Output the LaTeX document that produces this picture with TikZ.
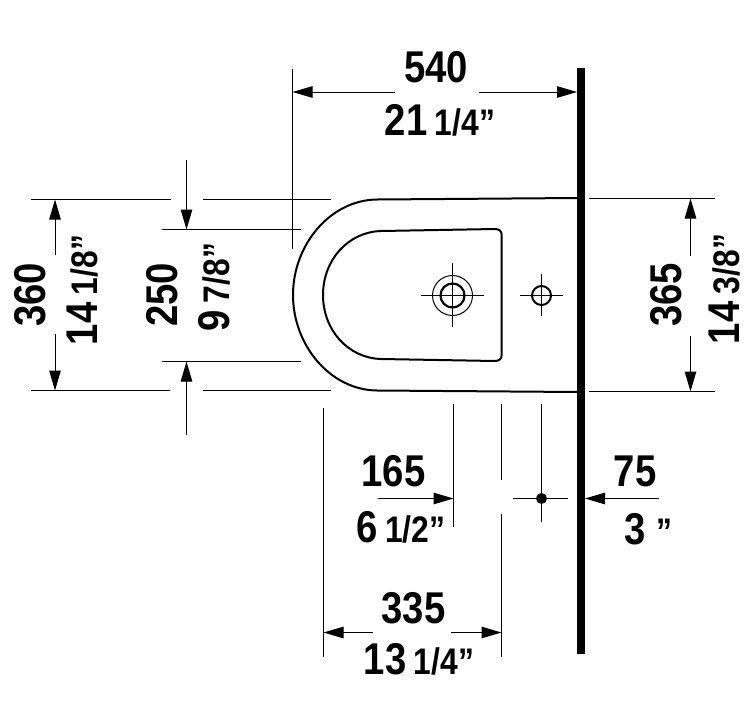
\documentclass[tikz,border=0pt]{standalone}
\usepackage{fontspec}
\newfontfamily\dimfont[FakeStretch=0.86]{Liberation Sans}
\newcommand{\fracsize}{\fontsize{37}{37}\selectfont}
\usetikzlibrary{arrows.meta}
\begin{document}
\begin{tikzpicture}[x=1pt,y=-1pt]
	\tikzstyle{edge} = [line width=1.1pt]
	\tikzstyle{dimarrow} = [line width=1pt,-{Triangle[length=20pt,width=11.5pt]}]
	\tikzstyle{body} = [line width=2pt]
	\tikzstyle{num} = [font=\dimfont\bfseries\fontsize{44.5}{44.5}\selectfont,inner sep=0pt]
	\useasboundingbox (0,0) rectangle (755,726);
	% wall
	\coordinate (walltop) at (581,68);
	\coordinate (wallbottom) at (581,654);
	\draw[line width=7.5pt] (walltop)--(wallbottom);
	% bowl
	\draw[body] (578,198)--(377,199.5) .. controls (330,200) and (293,245) .. (293,295) .. controls (293,345) and (330,390) .. (377,390.5)--(578,392);
	\draw[body] (495,229) .. controls (499,229) and (501.7,231) .. (501.7,235)--(501.7,355) .. controls (501.7,359) and (499,361) .. (495,361)--(381,359) .. controls (348,358) and (323,330) .. (323,295) .. controls (323,260) and (348,232) .. (381,231)--cycle;
	% holes
	\node[circle,draw,line width=1pt,minimum size=40pt,inner sep=0pt] (ring) at (452.5,295.5) {};
	\node[circle,draw,line width=2.2pt,minimum size=24pt,inner sep=0pt] (hole) at (452.5,295.5) {};
	\node[circle,draw,line width=2pt,minimum size=19pt,inner sep=0pt] (holesmall) at (541.5,295.5) {};
	\draw[edge] (421,295.5)--(484,295.5);
	\draw[edge] (452.5,263)--(452.5,327);
	\draw[edge] (520,295.5)--(563,295.5);
	\draw[edge] (541.5,274)--(541.5,316);
	% extension lines left
	\draw[edge] (31,199.5)--(171,199.5);
	\draw[edge] (203,199.5)--(331,199.5);
	\draw[edge] (162,229.5)--(301,229.5);
	\draw[edge] (162,361.5)--(301,361.5);
	\draw[edge] (31,390.5)--(170,390.5);
	\draw[edge] (203,390.5)--(331,390.5);
	\draw[edge] (292.5,69)--(292.5,249);
	% extension lines right
	\draw[edge] (589,198.5)--(715,198.5);
	\draw[edge] (589,391.5)--(715,391.5);
	% extension lines bottom
	\draw[edge] (323.5,408)--(323.5,657);
	\draw[edge] (453.5,404)--(453.5,527);
	\draw[edge] (501.5,404)--(501.5,480);
	\draw[edge] (501.5,514)--(501.5,657);
	\draw[edge] (541.5,404)--(541.5,522);
	\draw[edge] (513,498.5)--(568,498.5);
	\node[circle,fill=black,minimum size=11pt,inner sep=0pt] (dot) at (541.5,498.5) {};
	% arrows
	\coordinate (a1) at (292.5,92);
	\coordinate (a2) at (577,92);
	\draw[dimarrow] (395,92)--(a1);
	\draw[dimarrow] (479,92)--(a2);
	\draw[dimarrow] (55,255)--(55,199.5);
	\draw[dimarrow] (55,334)--(55,390.5);
	\draw[dimarrow] (186.5,160)--(186.5,229.5);
	\draw[dimarrow] (186.5,435)--(186.5,361.5);
	\draw[dimarrow] (690.5,256)--(690.5,198.5);
	\draw[dimarrow] (690.5,336)--(690.5,391.5);
	\draw[dimarrow] (378,498.5)--(453.5,498.5);
	\draw[dimarrow] (659,498.5)--(585,498.5);
	\draw[dimarrow] (373,632.5)--(323.5,632.5);
	\draw[dimarrow] (451,632.5)--(501.5,632.5);
	% labels
	\node[num] (t540) at (436,67) {540};
	\node[num] (t21) at (440,120.5) {21\,{\fracsize 1/4”}};
	\node[num,rotate=90] (t360) at (30,295) {360};
	\node[num,rotate=90] (t14a) at (83,290) {14\,{\fracsize 1/8”}};
	\node[num,rotate=90] (t250) at (162,295) {250};
	\node[num,rotate=90] (t9) at (214,287.5) {9\,{\fracsize 7/8”}};
	\node[num,rotate=90] (t365) at (666,295) {365};
	\node[num,rotate=90] (t14b) at (725,289) {14\,{\fracsize 3/8”}};
	\node[num] (t165) at (393.5,471) {165};
	\node[num] (t6) at (401,527) {6\,{\fracsize 1/2”}};
	\node[num] (t75) at (635,471) {75};
	\node[num] (t3) at (648,529) {3 {\fracsize ”}};
	\node[num] (t335) at (413.5,608.5) {335};
	\node[num] (t13) at (419,659) {13\,{\fracsize 1/4”}};
\end{tikzpicture}
\end{document}
